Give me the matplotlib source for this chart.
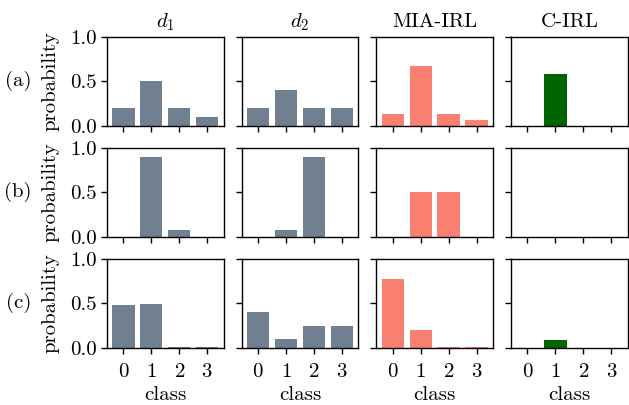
import matplotlib
matplotlib.use("Agg")
import matplotlib.pyplot as plt
import numpy as np

plt.rcParams['font.family'] = ['cmr10', 'DejaVu Serif']
plt.rcParams['mathtext.fontset'] = 'cm'
plt.rcParams['axes.unicode_minus'] = False
plt.rcParams['axes.formatter.use_mathtext'] = True
plt.rcParams['font.size'] = 15

classes = [0, 1, 2, 3]
col_titles = [r'$d_1$', r'$d_2$', 'MIA-IRL', 'C-IRL']
row_labels = ['(a)', '(b)', '(c)']
colors = ['slategray', 'slategray', 'salmon', 'darkgreen']

# rows (a), (b), (c)
d1 = [[0.2, 0.5, 0.2, 0.1],
      [0.0, 0.9, 0.075, 0.0],
      [0.48, 0.495, 0.005, 0.005]]
d2 = [[0.2, 0.405, 0.2, 0.2],
      [0.0, 0.075, 0.9, 0.0],
      [0.40, 0.1, 0.245, 0.245]]
mia_irl = [[0.133, 0.667, 0.133, 0.065],
           [0.0, 0.5, 0.5, 0.0],
           [0.775, 0.2, 0.005, 0.005]]
c_irl = [[0.0, 0.587, 0.0, 0.0],
         [0.0, 0.0, 0.0, 0.0],
         [0.0, 0.086, 0.0, 0.0]]

series = [d1, d2, mia_irl, c_irl]

fig, axes = plt.subplots(3, 4, figsize=(6.29, 4.05), dpi=100, sharex=True, sharey=True)
fig.subplots_adjust(left=0.170, right=0.998, top=0.909, bottom=0.1415, wspace=0.154, hspace=0.247)

for i in range(3):
    for j in range(4):
        ax = axes[i, j]
        ax.bar(classes, series[j][i], width=0.8, color=colors[j])
        ax.set_ylim(0, 1.0)
        ax.set_yticks([0, 0.5, 1.0])
        ax.set_yticklabels(['0.0', '0.5', '1.0'])
        ax.set_xticks(classes)
        ax.tick_params(direction='out', length=4, width=1, pad=3)
        ax.tick_params(axis='x', pad=7)
        for s in ax.spines.values():
            s.set_linewidth(1.0)
        if i == 0:
            ax.set_title(col_titles[j], fontsize=15, pad=7)
        if i == 2:
            ax.set_xlabel('class', labelpad=4)
        if j == 0:
            ax.set_ylabel('probability', labelpad=8)
            ax.text(-0.76, 0.5, row_labels[i], transform=ax.transAxes,
                    ha='center', va='center')

fig.savefig('out.png', dpi=100)
